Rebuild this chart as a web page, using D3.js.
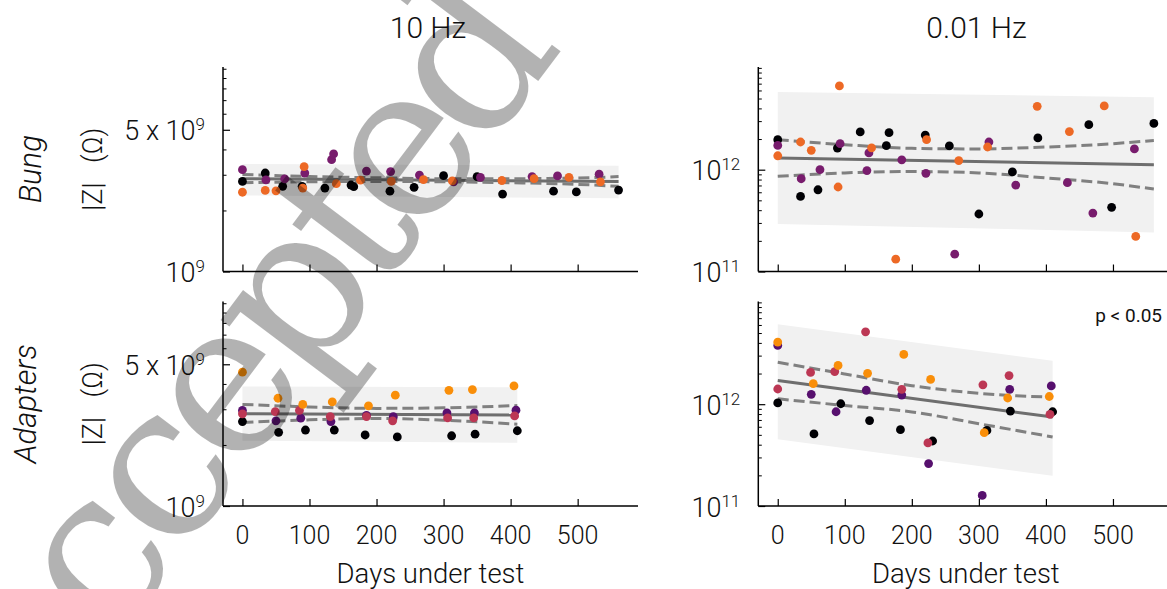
<!DOCTYPE html>
<html>
<head>
<meta charset="utf-8">
<script src="https://cdn.jsdelivr.net/npm/d3@7"></script>
<style>
  body { margin: 0; background: #fff; }
</style>
</head>
<body>
<script>
// ---- data: |Z| (ohm) vs days under test ----

// Bung, three samples
const bungDays1 = [0, 34, 60, 89, 123, 162, 166, 220, 256, 300, 350, 388, 464, 498, 561];
const bungDays2 = [0, 35, 63, 93, 133, 136, 185, 221, 264, 315, 355, 432, 470, 532];
const bungDays3 = [0, 34, 50, 90, 92, 140, 176, 222, 270, 313, 387, 435, 487, 534];

const bung10Hz1 = [2.78e9, 3.06e9, 2.63e9, 2.63e9, 2.58e9, 2.67e9, 2.62e9, 2.49e9, 2.60e9, 2.97e9, 2.94e9, 2.41e9, 2.49e9, 2.47e9, 2.52e9];
const bung10Hz2 = [3.18e9, 2.83e9, 2.86e9, 3.06e9, 3.56e9, 3.80e9, 3.13e9, 3.11e9, 2.99e9, 2.77e9, 2.91e9, 2.94e9, 2.96e9, 3.02e9];
const bung10Hz3 = [2.46e9, 2.51e9, 2.50e9, 2.58e9, 3.29e9, 2.71e9, 2.82e9, 2.78e9, 2.84e9, 2.80e9, 2.81e9, 2.87e9, 2.91e9, 2.77e9];

const bungLow1 = [1.97e12, 5.46e11, 6.35e11, 1.63e12, 2.35e12, 1.72e12, 2.31e12, 2.19e12, 1.71e12, 3.67e11, 9.5e11, 2.05e12, 2.77e12, 4.27e11, 2.85e12];
const bungLow2 = [1.73e12, 8.15e11, 1.0e12, 1.80e12, 9.8e11, 1.46e12, 1.25e12, 9.2e11, 1.48e11, 1.87e12, 7.06e11, 7.45e11, 3.75e11, 1.60e12];
const bungLow3 = [1.37e12, 1.87e12, 1.55e12, 6.76e11, 6.65e12, 1.64e12, 1.32e11, 1.97e12, 1.23e12, 1.67e12, 4.19e12, 2.37e12, 4.23e12, 2.21e11];

// Adapters, four samples
const adaptDays1 = [0, 54, 94, 137, 183, 231, 312, 347, 410];
const adaptDays2 = [0, 50, 87, 132, 185, 225, 305, 346, 408];
const adaptDays3 = [0, 49, 85, 131, 185, 224, 306, 345, 406];
const adaptDays4 = [0, 53, 90, 134, 188, 228, 308, 343, 405];

const adapt10Hz1 = [2.61e9, 2.31e9, 2.37e9, 2.37e9, 2.24e9, 2.19e9, 2.22e9, 2.26e9, 2.35e9];
const adapt10Hz2 = [2.96e9, 2.63e9, 2.71e9, 2.61e9, 2.80e9, 2.76e9, 2.88e9, 2.88e9, 2.97e9];
const adapt10Hz3 = [2.85e9, 2.92e9, 2.96e9, 2.76e9, 2.76e9, 2.63e9, 2.72e9, 2.72e9, 2.78e9];
const adapt10Hz4 = [4.57e9, 3.40e9, 3.17e9, 3.26e9, 3.12e9, 3.52e9, 3.72e9, 3.75e9, 3.91e9];

const adaptLow1 = [1.03e12, 5.1e11, 1.01e12, 6.9e11, 5.62e11, 4.35e11, 5.53e11, 8.55e11, 8.43e11];
const adaptLow2 = [3.78e12, 1.25e12, 8.43e11, 1.37e12, 1.23e12, 2.61e11, 1.27e11, 1.40e12, 1.51e12];
const adaptLow3 = [1.41e12, 2.05e12, 2.09e12, 5.14e12, 1.40e12, 4.16e11, 1.55e12, 1.91e12, 7.94e11];
const adaptLow4 = [4.07e12, 1.59e12, 2.40e12, 2.01e12, 3.08e12, 1.75e12, 5.25e11, 1.15e12, 1.19e12];

// regression fit, its confidence curves and prediction band
const bungFitEnds = [0, 561];
const bungFitDays = [0, 100, 200, 300, 400, 500, 561];
const bung10HzFit = [2.87e9, 2.78e9];
const bung10HzUpper = [3.01e9, 2.94e9, 2.90e9, 2.87e9, 2.87e9, 2.89e9, 2.94e9];
const bung10HzLower = [2.74e9, 2.77e9, 2.78e9, 2.77e9, 2.74e9, 2.69e9, 2.63e9];
const bung10HzBandTop = [3.39e9, 3.32e9];
const bung10HzBandBottom = [2.37e9, 2.30e9];

const bungLowFit = [1.30e12, 1.12e12];
const bungLowUpper = [1.97e12, 1.76e12, 1.62e12, 1.60e12, 1.67e12, 1.80e12, 1.94e12];
const bungLowLower = [8.6e11, 9.3e11, 9.6e11, 9.3e11, 8.3e11, 7.28e11, 6.45e11];
const bungLowBandTop = [5.8e12, 5.14e12];
const bungLowBandBottom = [2.93e11, 2.42e11];

const adaptFitEnds = [0, 410];
const adaptFitDays = [0, 100, 200, 300, 410];
const adapt10HzFit = [2.85e9, 2.81e9];
const adapt10HzUpper = [3.17e9, 3.08e9, 3.03e9, 3.05e9, 3.13e9];
const adapt10HzLower = [2.58e9, 2.66e9, 2.70e9, 2.65e9, 2.53e9];
const adapt10HzBandTop = [3.89e9, 3.85e9];
const adapt10HzBandBottom = [2.10e9, 2.05e9];

const adaptLowFit = [1.71e12, 7.47e11];
const adaptLowUpper = [2.58e12, 1.98e12, 1.52e12, 1.28e12, 1.17e12];
const adaptLowLower = [1.13e12, 9.7e11, 8.4e11, 6.43e11, 4.76e11];
const adaptLowBandTop = [6.1e12, 2.67e12];
const adaptLowBandBottom = [4.52e11, 1.98e11];

// axes
const dayTicks = [0, 100, 200, 300, 400, 500];
const highTicks = [1e9, 5e9];
const highTickMant = ["", "5 x "];
const highTickExp = ["9", "9"];
const lowTicks = [1e11, 1e12];
const lowTickMant = ["", ""];
const lowTickExp = ["11", "12"];

const colTitles = ["10 Hz", "0.01 Hz"];
const rowTitles = ["Bung", "Adapters"];

// watermark letters and their centres along the baseline (in em)
const markLetters = ["A", "c", "c", "e", "p", "t", "e", "d"];
const markCentres = [0.361, 0.944, 1.388, 1.832, 2.304, 2.693, 3.054, 3.526];


function init() {

  const svg = d3.select("body").append("svg")
    .attr("width", 1167)
    .attr("height", 589)
    .attr("font-family", "Roboto, 'Noto Sans', sans-serif")
    .style("background-color", "#ffffff");

  const panelW = 415, panelH = 204.5;
  const xDomain = [-29, 590];

  function panel(left, top, yDomain, ticks, mant, exps, days, vals, colors, fit, showX) {
    const x = d3.scaleLinear().domain(xDomain).range([left, left + panelW]);
    const y = d3.scaleLog().domain(yDomain).range([top + panelH, top]);
    const g = svg.append("g");

    // prediction band
    g.append("path")
      .datum(fit.ends.map((d, i) => [d, fit.bandTop[i], fit.bandBottom[i]]))
      .attr("d", d3.area().x(d => x(d[0])).y0(d => y(d[2])).y1(d => y(d[1])))
      .attr("fill", "#f1f1f1");

    // fit line
    g.append("path")
      .datum(fit.ends.map((d, i) => [d, fit.line[i]]))
      .attr("d", d3.line().x(d => x(d[0])).y(d => y(d[1])))
      .attr("stroke", "#6e6e6e")
      .attr("stroke-width", 3)
      .attr("fill", "none");

    [fit.upper, fit.lower].forEach(arr => {
      g.append("path")
        .datum(fit.days.map((d, i) => [d, arr[i]]))
        .attr("d", d3.line().curve(d3.curveMonotoneX).x(d => x(d[0])).y(d => y(d[1])))
        .attr("stroke", "#808080")
        .attr("stroke-width", 3)
        .attr("stroke-dasharray", "11,5")
        .attr("fill", "none");
    });

    // points
    days.forEach((ds, s) => {
      g.append("g").selectAll("circle")
        .data(ds.map((d, i) => [d, vals[s][i]]))
        .join("circle")
        .attr("cx", d => x(d[0]))
        .attr("cy", d => y(d[1]))
        .attr("r", 4.4)
        .attr("fill", colors[s]);
    });

    // axes
    const majors = ticks;
    const minors = y.ticks().filter(t => !majors.some(m => Math.abs(m - t) / m < 1e-6));

    const yAx = g.append("g").attr("transform", `translate(${left},0)`)
      .call(d3.axisRight(y).tickValues(majors).tickSize(7).tickSizeOuter(0).tickFormat(""));
    yAx.select(".domain").attr("stroke-width", 1.5).attr("d", `M0,${top}V${top + panelH}`);
    yAx.selectAll(".tick line").attr("stroke-width", 1.2);

    g.append("g").attr("transform", `translate(${left},0)`)
      .call(d3.axisRight(y).tickValues(minors).tickSize(3.5).tickSizeOuter(0).tickFormat(""))
      .call(a => a.select(".domain").remove())
      .selectAll(".tick line").attr("stroke-width", 1);

    const xAx = g.append("g").attr("transform", `translate(0,${top + panelH})`)
      .call(d3.axisTop(x).tickValues(dayTicks).tickSize(7).tickSizeOuter(0).tickFormat(""));
    xAx.select(".domain").attr("stroke-width", 1.5).attr("d", `M${left},0H${left + panelW}`);
    xAx.selectAll(".tick line").attr("stroke-width", 1.2);

    // y tick labels with superscripts
    ticks.forEach((t, i) => {
      const tx = g.append("text")
        .attr("x", left - 18)
        .attr("y", y(t) + 10.5)
        .attr("text-anchor", "end")
        .attr("font-size", 27)
        .attr("font-weight", 300)
        .attr("fill", "#111")
        .style("white-space", "pre");
      tx.append("tspan").text(mant[i] + "10");
      tx.append("tspan").attr("font-size", 17).attr("dy", -10).text(exps[i]);
    });

    if (showX) {
      g.append("g").selectAll("text")
        .data(dayTicks)
        .join("text")
        .attr("x", d => x(d))
        .attr("y", top + panelH + 37.5)
        .attr("text-anchor", "middle")
        .attr("font-size", 25)
        .attr("font-weight", 300)
        .attr("fill", "#111")
        .text(d => d);

      g.append("text")
        .attr("x", left + panelW / 2)
        .attr("y", top + panelH + 77)
        .attr("text-anchor", "middle")
        .attr("font-size", 27.5)
        .attr("font-weight", 300)
        .attr("fill", "#111")
        .text("Days under test");
    }
    return g;
  }

  const bungColors = [0, 1 / 3, 2 / 3].map(d3.interpolateInferno);
  const adaptColors = [0, 0.25, 0.5, 0.75].map(d3.interpolateInferno);

  const topY = 67, botY = 301.5;
  const leftX = 223, rightX = 758.3;
  const highDomain = [1e9, 1.02e10], lowDomain = [1e11, 1.02e13];

  panel(leftX, topY, highDomain, highTicks, highTickMant, highTickExp,
    [bungDays1, bungDays2, bungDays3], [bung10Hz1, bung10Hz2, bung10Hz3], bungColors,
    { ends: bungFitEnds, days: bungFitDays, line: bung10HzFit, upper: bung10HzUpper, lower: bung10HzLower,
      bandTop: bung10HzBandTop, bandBottom: bung10HzBandBottom }, false);

  panel(rightX, topY, lowDomain, lowTicks, lowTickMant, lowTickExp,
    [bungDays1, bungDays2, bungDays3], [bungLow1, bungLow2, bungLow3], bungColors,
    { ends: bungFitEnds, days: bungFitDays, line: bungLowFit, upper: bungLowUpper, lower: bungLowLower,
      bandTop: bungLowBandTop, bandBottom: bungLowBandBottom }, false);

  panel(leftX, botY, highDomain, highTicks, highTickMant, highTickExp,
    [adaptDays1, adaptDays2, adaptDays3, adaptDays4], [adapt10Hz1, adapt10Hz2, adapt10Hz3, adapt10Hz4], adaptColors,
    { ends: adaptFitEnds, days: adaptFitDays, line: adapt10HzFit, upper: adapt10HzUpper, lower: adapt10HzLower,
      bandTop: adapt10HzBandTop, bandBottom: adapt10HzBandBottom }, true);

  panel(rightX, botY, lowDomain, lowTicks, lowTickMant, lowTickExp,
    [adaptDays1, adaptDays2, adaptDays3, adaptDays4], [adaptLow1, adaptLow2, adaptLow3, adaptLow4], adaptColors,
    { ends: adaptFitEnds, days: adaptFitDays, line: adaptLowFit, upper: adaptLowUpper, lower: adaptLowLower,
      bandTop: adaptLowBandTop, bandBottom: adaptLowBandBottom }, true);

  // column titles
  [428, 976.5].forEach((cx, i) => {
    svg.append("text")
      .attr("x", cx).attr("y", 38)
      .attr("text-anchor", "middle")
      .attr("font-size", 30)
      .attr("font-weight", 300)
      .attr("fill", "#111")
      .text(colTitles[i]);
  });

  // row titles and y labels
  [[41, topY + panelH / 2], [36, botY + panelH / 2]].forEach((p, i) => {
    svg.append("text")
      .attr("transform", `translate(${p[0]},${p[1]}) rotate(-90)`)
      .attr("text-anchor", "middle")
      .attr("font-size", 31)
      .attr("font-style", "italic")
      .attr("font-weight", 300)
      .attr("fill", "#111")
      .text(rowTitles[i]);

    svg.append("text")
      .attr("transform", `translate(101.5,${p[1]}) rotate(-90)`)
      .attr("text-anchor", "middle")
      .attr("font-size", 27)
      .attr("font-weight", 300)
      .attr("fill", "#111")
      .style("white-space", "pre")
      .text("|Z|   (\u03a9)");
  });

  svg.append("text")
    .attr("x", 1162).attr("y", 321.5)
    .attr("text-anchor", "end")
    .attr("font-size", 19)
    .attr("fill", "#111")
    .text("p < 0.05");

  // watermark, letters laid out on a serif spacing
  const em = 242;
  const mark = svg.append("g")
    .attr("transform", "translate(10,782) rotate(-53)")
    .attr("font-family", "'DejaVu Serif', 'Liberation Serif', 'Noto Sans', sans-serif")
    .attr("font-size", 212)
    .attr("fill", "#000")
    .attr("fill-opacity", 0.3);
  mark.selectAll("text")
    .data(markLetters)
    .join("text")
    .attr("x", (d, i) => markCentres[i] * em)
    .attr("y", 0)
    .attr("text-anchor", "middle")
    .text(d => d);
}

init();
</script>
</body>
</html>
